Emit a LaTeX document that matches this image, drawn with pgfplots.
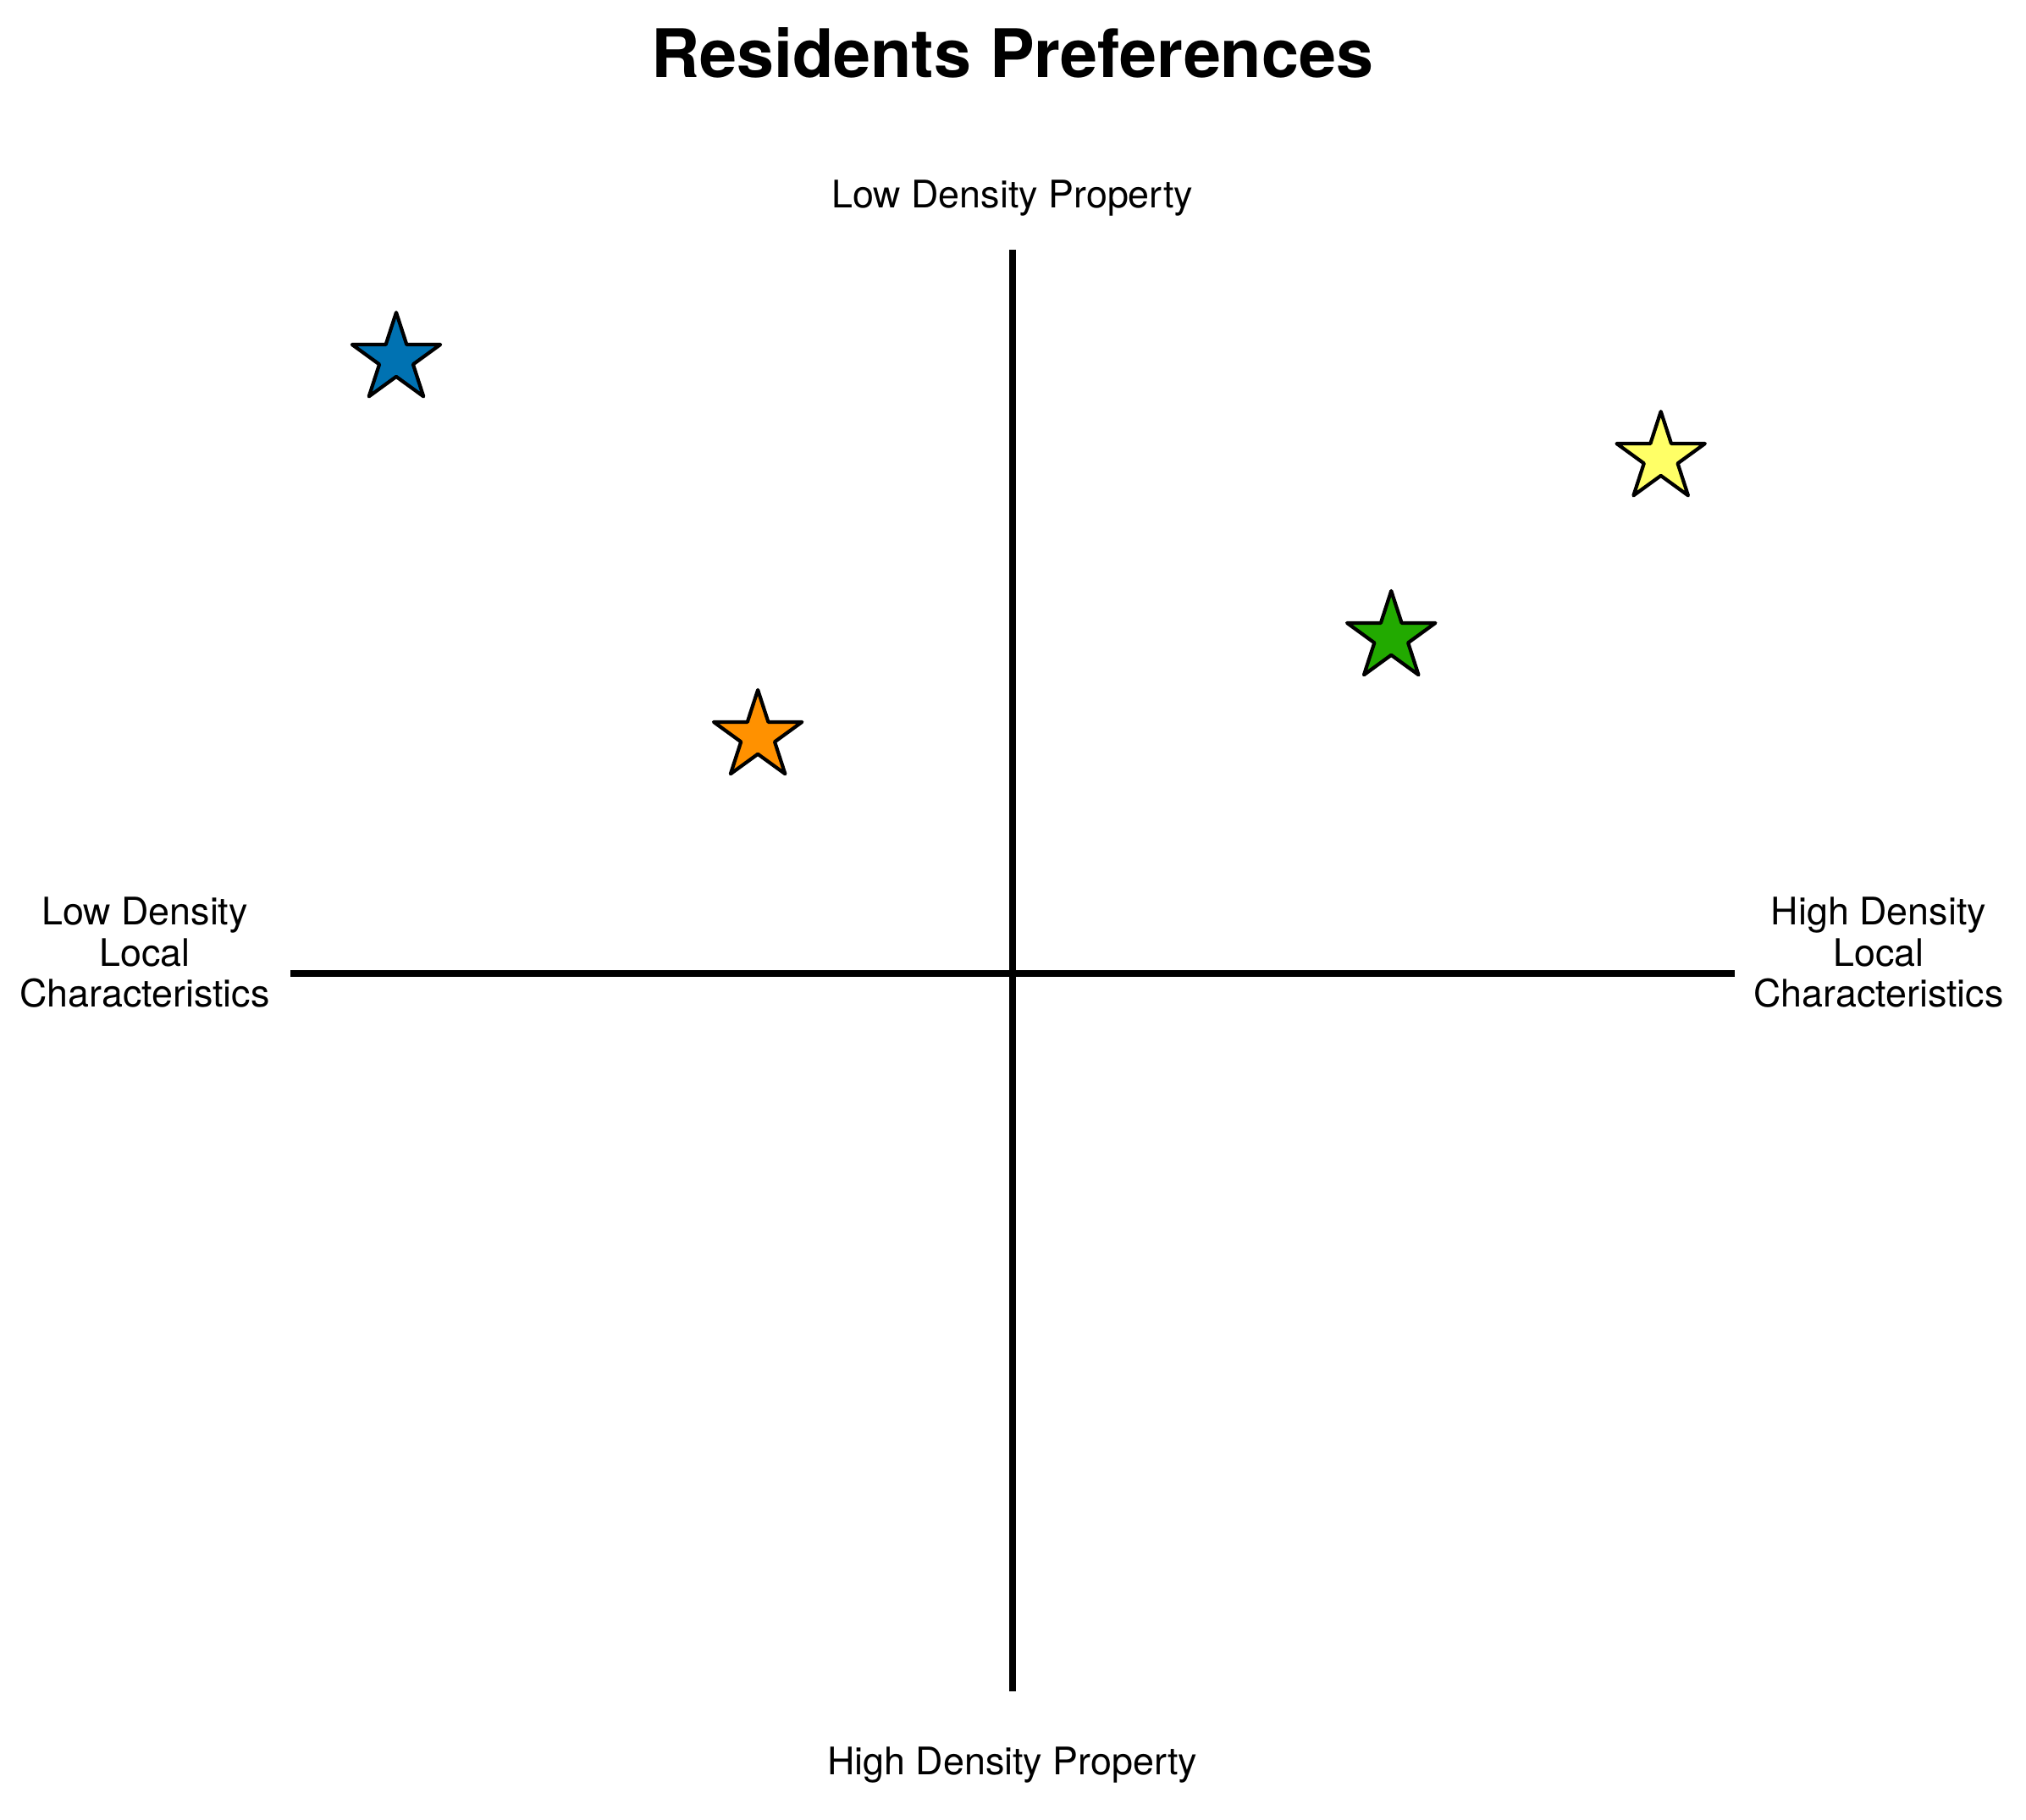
\documentclass[border=0pt]{standalone}
\usepackage{pgfplots}
\pgfplotsset{compat=1.18}
\usepackage{fontspec}
\setmainfont{TeX Gyre Heros}

\definecolor{cblue}{RGB}{0,114,178}
\definecolor{corange}{RGB}{255,145,0}
\definecolor{cgreen}{RGB}{34,170,0}
\definecolor{cyellow}{RGB}{255,255,102}

% filled five-point star, like matplotlib's '*'
\pgfdeclareplotmark{fstar}{%
  \pgfpathmoveto{\pgfpointpolar{90}{\pgfplotmarksize}}%
  \pgfpathlineto{\pgfpointpolar{126}{0.382\pgfplotmarksize}}%
  \pgfpathlineto{\pgfpointpolar{162}{\pgfplotmarksize}}%
  \pgfpathlineto{\pgfpointpolar{198}{0.382\pgfplotmarksize}}%
  \pgfpathlineto{\pgfpointpolar{234}{\pgfplotmarksize}}%
  \pgfpathlineto{\pgfpointpolar{270}{0.382\pgfplotmarksize}}%
  \pgfpathlineto{\pgfpointpolar{306}{\pgfplotmarksize}}%
  \pgfpathlineto{\pgfpointpolar{342}{0.382\pgfplotmarksize}}%
  \pgfpathlineto{\pgfpointpolar{18}{\pgfplotmarksize}}%
  \pgfpathlineto{\pgfpointpolar{54}{0.382\pgfplotmarksize}}%
  \pgfpathclose
  \pgfusepathqfillstroke}

\tikzset{lbl/.style={font=\fontsize{8.5}{9.2}\selectfont, align=center, inner sep=0pt}}

\begin{document}
\begin{tikzpicture}
\useasboundingbox (-2.31,-1.04) rectangle (13.64,13.29);
\begin{axis}[
    at={(0,0)}, anchor=south west,
    scale only axis,
    width=11.32cm, height=11.3cm,
    xmin=-1, xmax=1, ymin=-0.996, ymax=1.004,
    axis lines=middle,
    axis line style={-, line width=1.5pt, line cap=rect, black},
    xtick=\empty, ytick=\empty,
    clip=false,
    star/.style={only marks, mark=fstar, mark size=10.4pt,
        mark options={draw=black, line width=0.8pt, line join=round, fill=#1}},
]
\addplot[star=cblue]   coordinates {(-0.857,0.856)};
\addplot[star=corange] coordinates {(-0.354,0.330)};
\addplot[star=cgreen]  coordinates {(0.527,0.468)};
\addplot[star=cyellow] coordinates {(0.902,0.718)};

\node[lbl] at ([yshift=0.43cm]rel axis cs:0.5,1) {Low Density Property};
\node[lbl] at ([yshift=-0.61cm]rel axis cs:0.5,0) {High Density Property};
\node[lbl] at ([xshift=-1.17cm, yshift=0.14cm]rel axis cs:0,0.5) {Low Density\\Local\\Characteristics};
\node[lbl] at ([xshift=1.16cm, yshift=0.14cm]rel axis cs:1,0.5) {High Density\\Local\\Characteristics};
\node[font=\fontsize{15}{18}\selectfont\bfseries, anchor=base, inner sep=0pt]
    at ([yshift=1.38cm]rel axis cs:0.5,1) {Residents Preferences};
\end{axis}
\end{tikzpicture}
\end{document}
